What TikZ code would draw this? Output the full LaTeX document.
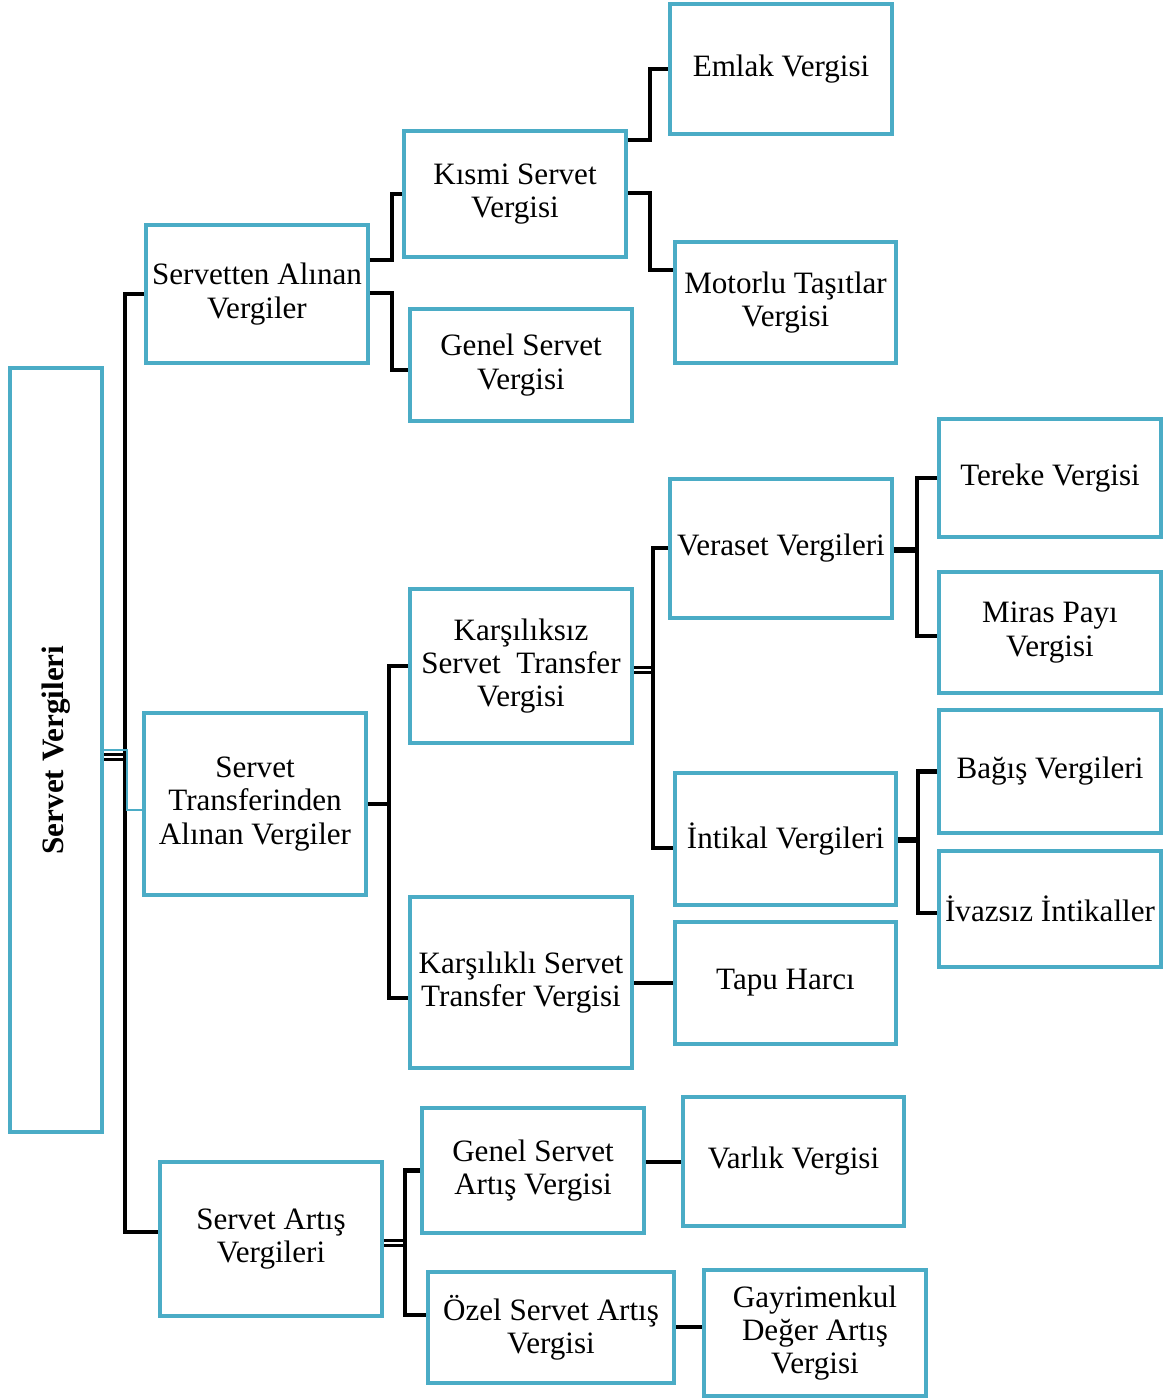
\documentclass[tikz,border=0pt]{standalone}
\usepackage{fontspec}
\setmainfont{Liberation Serif}
\usepackage{xcolor}
\usepackage{tikz}
\usetikzlibrary{calc}
\definecolor{bLine}{RGB}{75,172,198}
\tikzset{
  box/.style={rectangle, draw=bLine, fill=white, line width=2.2pt,
              align=center, inner sep=1pt,
              font=\fontsize{17.7}{18.9}\selectfont},
  rootbox/.style={box, font=\fontsize{17.7}{18.9}\selectfont\bfseries},
  conn/.style={draw=black, line width=2.4pt, line join=miter},
  dbl/.style={draw=black, line width=1.5pt, double=white, double distance=1.2pt},
  bar/.style={draw=black, line width=3.8pt},
  thinlink/.style={draw=bLine, line width=0.6pt},
}
\begin{document}
\begin{tikzpicture}[x=0.02cm, y=-0.02cm]
  \useasboundingbox (0,0) rectangle (1172,1399);
  \node[rootbox, minimum width=1.84cm, minimum height=15.28cm] (root) at (56,750) {};
  \node[rotate=90, font=\fontsize{17.7}{18.9}\selectfont\bfseries] (roottxt) at (56,750) {Servet Vergileri};
  \node[box, minimum width=4.44cm, minimum height=2.76cm] (sav)  at (257,294)  {Servetten Alınan\\Vergiler};
  \node[box, minimum width=4.44cm, minimum height=3.64cm] (stv)  at (255,804)  {Servet\\Transferinden\\Alınan Vergiler};
  \node[box, minimum width=4.44cm, minimum height=3.08cm] (sar)  at (271,1239) {Servet Artış\\Vergileri};
  \node[box, minimum width=4.44cm, minimum height=2.52cm] (ksv)  at (515,194)  {Kısmi Servet\\Vergisi};
  \node[box, minimum width=4.44cm, minimum height=2.24cm] (gsv)  at (521,365)  {Genel Servet\\Vergisi};
  \node[box, minimum width=4.44cm, minimum height=2.60cm] (emv)  at (781,69)   {Emlak Vergisi};
  \node[box, minimum width=4.42cm, minimum height=2.42cm] (mtv)  at (785.5,302.5) {Motorlu Taşıtlar\\Vergisi};
  \node[box, minimum width=4.44cm, minimum height=3.08cm] (kstv) at (521,666)  {Karşılıksız\\Servet\ \ Transfer\\Vergisi};
  \node[box, minimum width=4.44cm, minimum height=3.42cm] (klsv) at (521,982.5) {Karşılıklı Servet\\Transfer Vergisi};
  \node[box, minimum width=4.44cm, minimum height=2.78cm] (vrv)  at (781,548.5) {Veraset Vergileri};
  \node[box, minimum width=4.42cm, minimum height=2.64cm] (inv)  at (785.5,839) {İntikal Vergileri};
  \node[box, minimum width=4.42cm, minimum height=2.44cm] (tph)  at (785.5,983) {Tapu Harcı};
  \node[box, minimum width=4.44cm, minimum height=2.36cm] (trv)  at (1050,478) {Tereke Vergisi};
  \node[box, minimum width=4.44cm, minimum height=2.42cm] (mpv)  at (1050,632.5) {Miras Payı\\Vergisi};
  \node[box, minimum width=4.44cm, minimum height=2.46cm] (bgv)  at (1050,771.5) {Bağış Vergileri};
  \node[box, minimum width=4.44cm, minimum height=2.32cm] (ivi)  at (1050,909) {İvazsız İntikaller};
  \node[box, minimum width=4.44cm, minimum height=2.50cm] (gsav) at (533,1170.5) {Genel Servet\\Artış Vergisi};
  \node[box, minimum width=4.92cm, minimum height=2.22cm] (osav) at (551,1327.5) {Özel Servet Artış\\Vergisi};
  \node[box, minimum width=4.42cm, minimum height=2.58cm] (vlv)  at (793.5,1161.5) {Varlık Vergisi};
  \node[box, minimum width=4.44cm, minimum height=2.52cm] (gdav) at (815,1333) {Gayrimenkul\\Değer Artış\\Vergisi};
  \coordinate (j0) at (125,757);
  \coordinate (j1) at (389,804);
  \coordinate (j2) at (653,670);
  \coordinate (j3) at (917,550);
  \coordinate (j4) at (918,840);
  \coordinate (j5) at (405,1243);
  \draw[dbl] (root.east |- j0) -- (j0);
  \draw[conn] (sav.west) -| (j0) |- (sar.west |- 0,1232);
  \draw[thinlink] (root.east |- 0,750) -| (127,810) -- (stv.west |- 0,810);
  \draw[conn] (sav.east |- 0,260) -- ++(22,0) |- (ksv.west);
  \draw[conn] (sav.east |- 0,293) -- ++(22,0) |- (gsv.west |- 0,370);
  \draw[conn] (ksv.east |- 0,140) -- ++(22,0) |- (emv.west);
  \draw[conn] (ksv.east |- 0,193) -- ++(22,0) |- (mtv.west |- 0,270);
  \draw[conn] (stv.east) -- (j1);
  \draw[conn] (kstv.west) -| (j1) |- (klsv.west |- 0,998);
  \draw[dbl] (kstv.east |- j2) -- (j2);
  \draw[conn] (vrv.west |- 0,548) -| (j2) |- (inv.west |- 0,848);
  \draw[conn] (klsv.east |- tph.west) -- (tph.west);
  \draw[bar] (vrv.east |- j3) -- (j3);
  \draw[conn] (trv.west) -| (j3) |- (mpv.west |- 0,636);
  \draw[bar] (inv.east |- j4) -- (j4);
  \draw[conn] (bgv.west) -| (j4) |- (ivi.west |- 0,913);
  \draw[dbl] (sar.east |- j5) -- (j5);
  \draw[conn] (gsav.west) -| (j5) |- (osav.west |- 0,1315);
  \draw[conn] (gsav.east |- 0,1162) -- (vlv.west |- 0,1162);
  \draw[conn] (osav.east |- 0,1327) -- (gdav.west |- 0,1327);
\end{tikzpicture}
\end{document}
